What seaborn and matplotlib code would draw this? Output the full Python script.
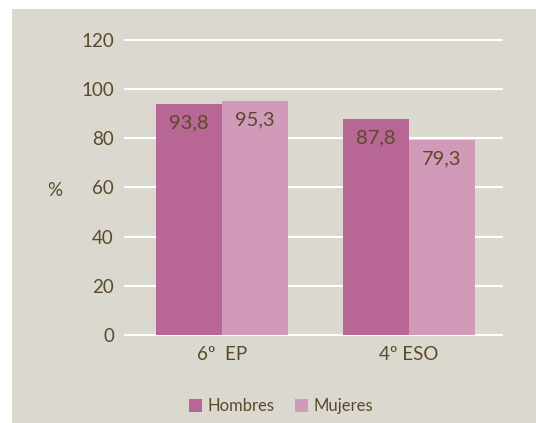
import matplotlib
matplotlib.use("Agg")
import matplotlib.pyplot as plt
import seaborn as sns
import pandas as pd
from matplotlib.patches import Rectangle

categories = ["6º  EP", "4º ESO"]
hombres = [93.8, 87.8]
mujeres = [95.3, 79.3]
series = ["Hombres", "Mujeres"]
yticks = [0, 20, 40, 60, 80, 100, 120]

df = pd.DataFrame({
    "cat": categories * 2,
    "sexo": [series[0]] * 2 + [series[1]] * 2,
    "val": hombres + mujeres,
})

sns.set_theme(style="white")
plt.rcParams["font.family"] = ["Lato", "DejaVu Sans"]

TXT = "#5b4a2a"
BG = "#dbd8cf"
colors = ["#b86694", "#d09ab8"]

W, H = 536, 423
fig = plt.figure(figsize=(W / 100, H / 100), dpi=100)
fig.patch.set_facecolor("white")
fig.patches.append(Rectangle((12 / W, 0), 1 - 12 / W, 1 - 9 / H,
                             transform=fig.transFigure, facecolor=BG,
                             edgecolor="none", zorder=-10))

ax = fig.add_axes([125 / W, (H - 335) / H, (502 - 125) / W, (335 - 40) / H])
ax.set_facecolor("none")

sns.barplot(data=df, x="cat", y="val", hue="sexo", palette=colors,
            width=0.706, gap=0, saturation=1, ax=ax, legend=False,
            edgecolor="none", linewidth=0, zorder=3)

ax.set_ylim(0, 120)
ax.set_xlim(-0.519, 1.497)
ax.set_yticks(yticks)
ax.set_yticklabels([str(t) for t in yticks])
for t in yticks:
    ax.axhline(t, color="white", lw=1.5, zorder=1, clip_on=False)

for s in ax.spines.values():
    s.set_visible(False)
ax.tick_params(axis="both", length=0, colors=TXT, labelsize=13.5)
ax.tick_params(axis="y", pad=8)
ax.tick_params(axis="x", pad=8)
ax.set_xlabel("")
ax.set_ylabel("")

for p in ax.patches:
    h = p.get_height()
    if h <= 0:
        continue
    ax.annotate(f"{h:.1f}".replace(".", ","),
                (p.get_x() + p.get_width() / 2, h),
                xytext=(0, -13.5), textcoords="offset points",
                ha="center", va="center", color=TXT, fontsize=14.5, zorder=5)

fig.text(55 / W, 1 - 190 / H, "%", color=TXT, fontsize=13.5,
         ha="center", va="center")

handles = [Rectangle((0, 0), 1, 1, facecolor=c, edgecolor="none") for c in colors]
fig.legend(handles, series, loc="center", bbox_to_anchor=(281 / W, 1 - 406 / H),
           ncol=2, frameon=False, fontsize=12, labelcolor=TXT,
           handlelength=0.8, handleheight=0.8, handletextpad=0.35,
           columnspacing=1.2)

fig.savefig("out.png", dpi=100, facecolor=fig.get_facecolor())
